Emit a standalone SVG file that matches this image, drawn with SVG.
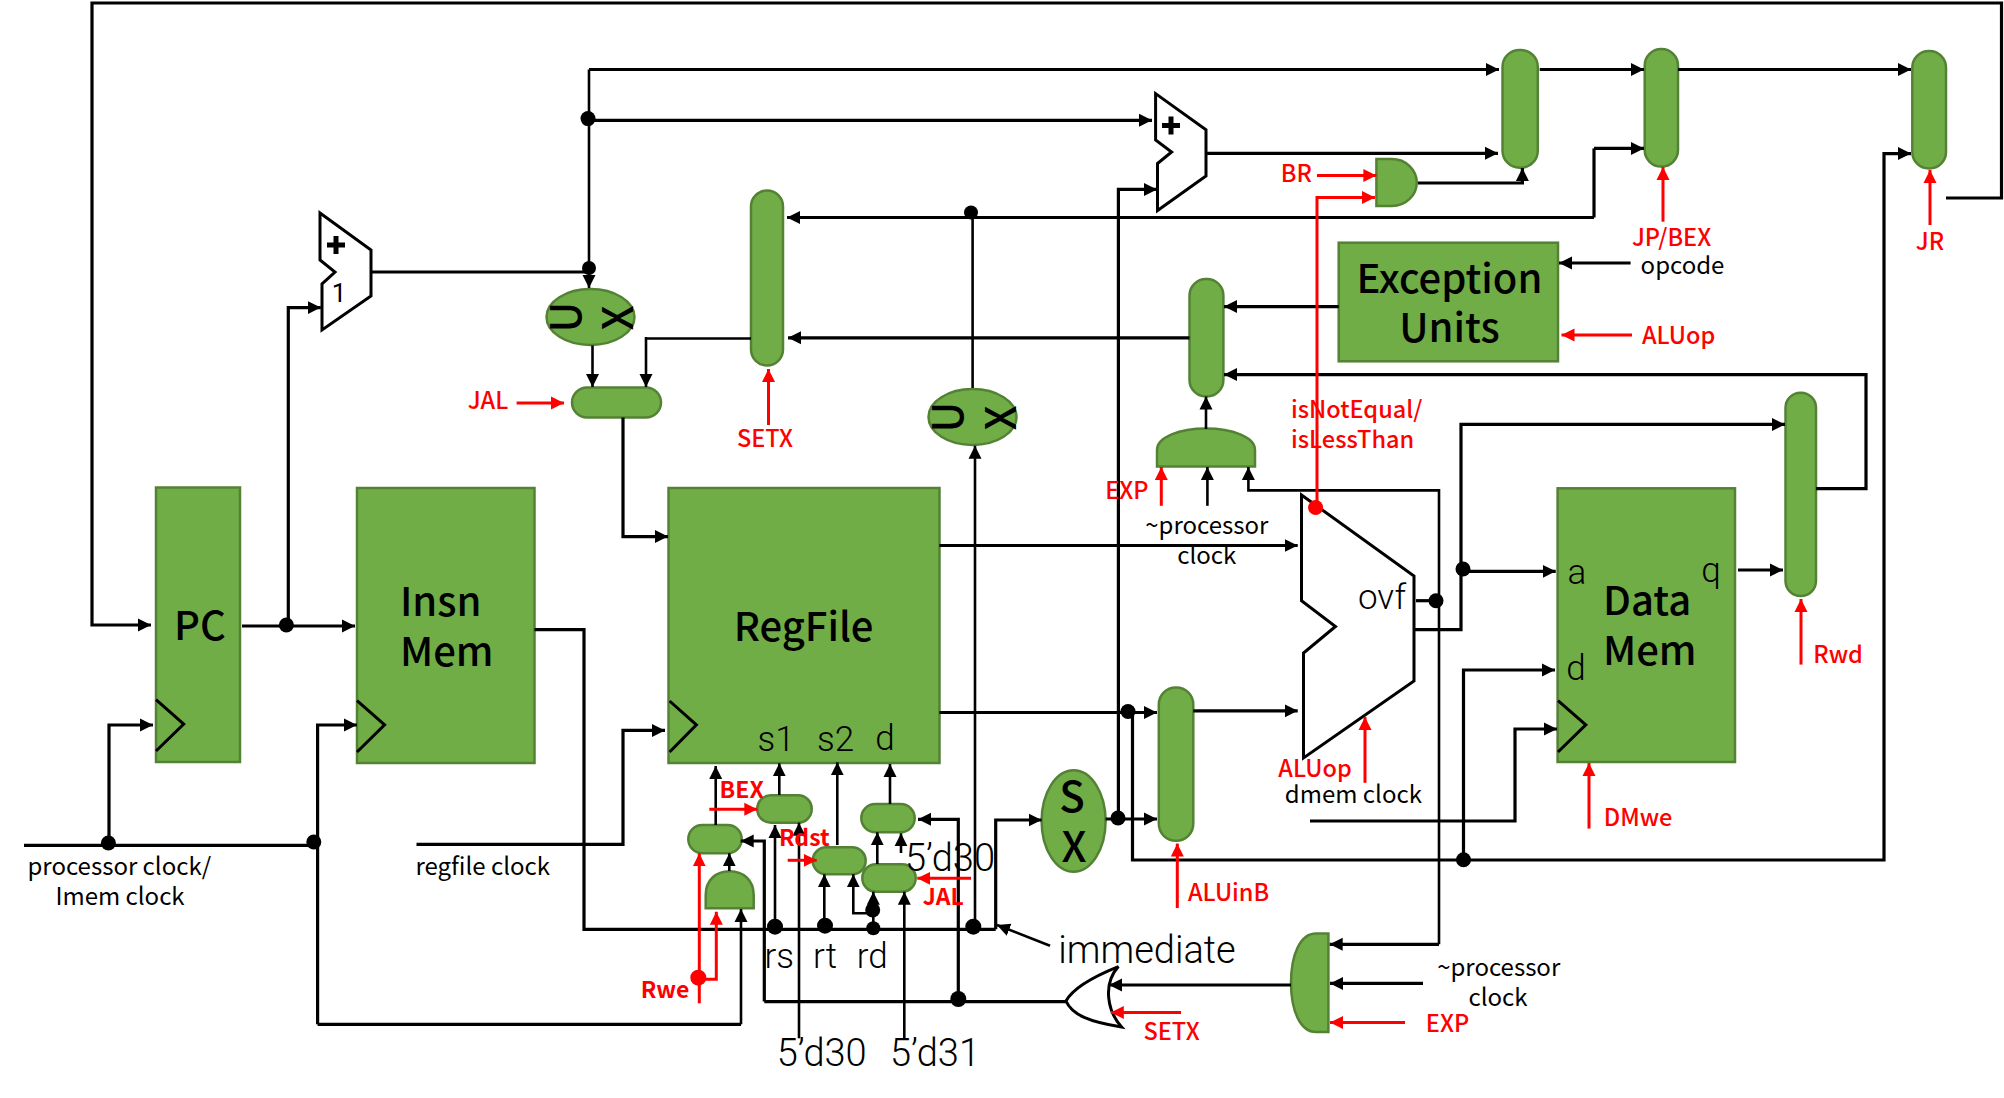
<svg xmlns="http://www.w3.org/2000/svg" width="2004" height="1098" viewBox="0 0 2004 1098">
<style>
.g{fill:#70AD47;stroke:#548235;stroke-width:2.5}
.w{fill:#fff;stroke:#000;stroke-width:3}
.ck{fill:none;stroke:#000;stroke-width:3}
.b,.ba{fill:none;stroke:#000;stroke-width:3.2}
.t,.ta{fill:none;stroke:#000;stroke-width:2.6}
.ba,.ta{marker-end:url(#ah)}
.r,.ra{fill:none;stroke:#f00;stroke-width:3}
.ra{marker-end:url(#rh)}
.d{fill:#000}
text{font-family:"Noto Sans CJK SC","Noto Sans",sans-serif;text-anchor:middle}
.big{font-size:40px;font-weight:500}
.s{font-size:24px}
.red{font-size:23.500px;fill:#f00;font-weight:500}
.rb{font-size:23px;fill:#f00;font-weight:700}
.thin{font-family:"Roboto","Noto Sans",sans-serif;font-weight:300;font-size:35px}
.th2{font-family:"Roboto","Noto Sans",sans-serif;font-weight:300;font-size:38px}
.mx{font-size:42px;font-weight:500}
</style>
<defs>
<marker id="ah" markerUnits="userSpaceOnUse" markerWidth="14" markerHeight="14" refX="13" refY="7" orient="auto"><path d="M0 0.5L13 7L0 13.5Z" fill="#000"/></marker>
<marker id="rh" markerUnits="userSpaceOnUse" markerWidth="14" markerHeight="14" refX="13" refY="7" orient="auto"><path d="M0 0.5L13 7L0 13.5Z" fill="#f00"/></marker>
</defs>

<g id="pc"><rect class="g" x="156" y="487.500" width="84" height="274.500"/><path class="ck" d="M156 699.600L183.700 724L156 751"/><text class="big" x="200" y="640">PC</text></g>
<g id="insn-mem"><rect class="g" x="357" y="488" width="177.500" height="275"/><path class="ck" d="M357 700.600L384.600 724.800L357 752"/><text class="big" x="400" y="616" style="text-anchor:start">Insn</text><text class="big" x="400" y="666" style="text-anchor:start">Mem</text></g>
<g id="regfile"><rect class="g" x="668.500" y="488" width="271" height="275"/><path class="ck" d="M669.600 701L696.400 724.800L669.600 752"/><text class="big" x="803.600" y="641">RegFile</text><text class="thin" x="776" y="751">s1</text><text class="thin" x="835.500" y="751">s2</text><text class="thin" x="885" y="750">d</text></g>
<g id="data-mem"><rect class="g" x="1557.600" y="488.300" width="177.400" height="273.700"/><path class="ck" d="M1558 700.600L1585.800 724.800L1558 752"/><text class="big" x="1603" y="615" style="text-anchor:start">Data</text><text class="big" x="1603" y="665" style="text-anchor:start">Mem</text><text class="thin" x="1577" y="584">a</text><text class="thin" x="1711" y="582">q</text><text class="thin" x="1576" y="680">d</text></g>
<g id="exception-units"><rect class="g" x="1338.700" y="242.700" width="219.300" height="118.600"/><text class="big" x="1449.400" y="293">Exception</text><text class="big" x="1449.400" y="342">Units</text></g>
<g id="adder-pc"><path class="w" d="M320 213L371 250V296L322 330V284L335 272L320 260Z"/><path class="d" d="M333.500 236h5v6.500h6.500v5h-6.500v6.500h-5v-6.500h-6.500v-5h6.500z"/><text x="339" y="302" style="font-size:26px;font-family:'Roboto',sans-serif;font-weight:400">1</text></g>
<g id="adder-branch"><path class="w" d="M1155.600 93.600L1206 129.800V176L1157.500 210.500V163.500L1171.600 152L1155.600 140Z"/><path class="d" d="M1168.500 116.500h5v6.500h6.500v5h-6.500v6.500h-5v-6.500h-6.500v-5h6.500z"/></g>
<g id="alu"><path class="w" d="M1301.500 495L1414 576V681L1303.500 758V653L1335.500 626.500L1301.500 600.700Z"/><text class="thin" x="1382" y="609">ovf</text></g>
<g id="mux-ux-1"><ellipse class="g" cx="590.500" cy="317" rx="44" ry="28"/><text class="mx" transform="translate(581 317) rotate(-90)">U</text><text class="mx" transform="translate(633 318) rotate(-90)">X</text></g>
<g id="mux-ux-2"><ellipse class="g" cx="972.500" cy="417" rx="44" ry="28"/><text class="mx" transform="translate(963 417) rotate(-90)">U</text><text class="mx" transform="translate(1016 418) rotate(-90)">X</text></g>
<g id="sx"><ellipse class="g" cx="1073.600" cy="821" rx="32" ry="50.700"/><text class="mx" x="1072" y="812">S</text><text class="mx" x="1074" y="862">X</text></g>
<g id="mux-jal"><rect class="g" x="572" y="387.600" width="89" height="29.800" rx="15"/></g>
<g id="mux-setx"><rect class="g" x="751" y="190.500" width="32" height="175" rx="16"/></g>
<g id="mux-a"><rect class="g" x="1502.500" y="50" width="35.300" height="117.700" rx="17"/></g>
<g id="mux-b"><rect class="g" x="1644.700" y="49" width="33.300" height="117.600" rx="16.500"/></g>
<g id="mux-c"><rect class="g" x="1912.300" y="51" width="33.700" height="117.400" rx="16.500"/></g>
<g id="mux-exc"><rect class="g" x="1189.500" y="279" width="33.900" height="117.400" rx="16.500"/></g>
<g id="mux-rwd"><rect class="g" x="1785.500" y="392.800" width="30.500" height="203.200" rx="15"/></g>
<g id="mux-aluinb"><rect class="g" x="1158.800" y="687.400" width="34.500" height="153.400" rx="17"/></g>
<g id="mux-s1"><rect class="g" x="688.300" y="825" width="53.400" height="28.300" rx="14"/></g>
<g id="mux-bex"><rect class="g" x="757.300" y="795.300" width="54.400" height="27.400" rx="13.500"/></g>
<g id="mux-rdst"><rect class="g" x="812.700" y="847.300" width="53" height="27" rx="13.500"/></g>
<g id="mux-d"><rect class="g" x="861.300" y="804" width="53.400" height="28.300" rx="14"/></g>
<g id="mux-jal2"><rect class="g" x="862.300" y="864.300" width="53.400" height="27.400" rx="13.500"/></g>
<g id="and-exc"><path class="g" d="M1157 466.500V450C1157 437 1180 428.600 1206 428.600C1232 428.600 1255 437 1255 450V466.500Z"/></g>
<g id="and-rwe"><path class="g" d="M705.700 908.300V895C705.700 880 716 871.300 729.700 871.300C743 871.300 753.700 880 753.700 895V908.300Z"/></g>
<g id="and-br"><path class="g" d="M1376.400 159H1392C1406 159 1416.800 170 1416.800 182.500C1416.800 195 1406 206 1392 206H1376.400Z"/></g>
<g id="latch-setx"><path class="g" d="M1328.400 933.400V1032H1316C1300 1032 1291 1010 1291 983C1291 955 1300 933.400 1316 933.400Z"/></g>
<g id="or-setx"><path class="w" d="M1118.400 966.600C1090 978 1072 990 1066 1001C1072 1015 1090 1022 1121.600 1027C1108 1012 1102 985 1118.400 966.600Z"/></g>

<g id="connectors">
<path class="ba" d="M1946 198H2001.500V3H92V625H151"/>
<path class="ba" d="M242 626H355"/>
<path class="ba" d="M288.300 625V307.600H320.800"/>
<path class="b" d="M371 272H589"/>
<path class="ta" d="M589 69.500V288"/>
<path class="ba" d="M589 69.500H1499"/>
<path class="ba" d="M589 120.300H1152"/>
<path class="ta" d="M592.500 345.500V387"/>
<path class="t" d="M751 338.500H646"/>
<path class="ta" d="M646 337V387"/>
<path class="ba" d="M623 417.400V536.600H668"/>
<path class="ba" d="M1594 217.500H787"/>
<path class="b" d="M1594 217.500V148.400"/>
<path class="ba" d="M1594 148.400H1644"/>
<path class="t" d="M972.600 212V388"/>
<path class="ba" d="M1189.500 337.800H788"/>
<path class="ta" d="M975 929V445.700"/>
<path class="ba" d="M1206 153.300H1498"/>
<path class="ba" d="M1118.400 818V189.400H1157"/>
<path class="ba" d="M1539.700 69.500H1644"/>
<path class="ba" d="M1678 69.500H1911"/>
<path class="ba" d="M1418 183H1522.400V168"/>
<path class="ba" d="M1132.500 712V860H1884V153.600H1911"/>
<path class="ba" d="M939.400 712.500H1157"/>
<path class="ba" d="M1105.600 819H1157"/>
<path class="ba" d="M995.700 929.300V820H1041.600"/>
<path class="b" d="M534.500 629.700H584V929.300H995.700"/>
<path class="ta" d="M1050 945.700L997 925"/>
<path class="ba" d="M1338.700 306.600H1224"/>
<path class="ba" d="M1816 488.600H1866V374.600H1224"/>
<path class="ba" d="M1630.600 263H1559"/>
<path class="ta" d="M1206 429V396.500"/>
<path class="ta" d="M1207.400 505.800V467"/>
<path class="ta" d="M1439 944.300V490.400H1248.400V467"/>
<path class="ba" d="M1439 944.300H1329.700"/>
<path class="ba" d="M1413 629.700H1461V424.400H1785"/>
<path class="ba" d="M1463 571.300H1555.700"/>
<path class="ba" d="M1463.500 860V670H1555"/>
<path class="ba" d="M1310 821H1515V729H1557"/>
<path class="b" d="M1416 600.700H1436"/>
<path class="ba" d="M939.400 545.500H1297.700"/>
<path class="ba" d="M1193.300 710.800H1297.700"/>
<path class="ba" d="M1738 570H1783"/>
<path class="ba" d="M1291 985H1109"/>
<path class="ba" d="M1423 983.400H1330"/>
<path class="b" d="M1066 1001.600H764.300"/>
<path class="ba" d="M958.300 1001.600V819.300H918"/>
<path class="ba" d="M764.300 1001.600V841H740.700"/>
<path class="ta" d="M715.700 825V766"/>
<path class="ta" d="M779.300 795V763.300"/>
<path class="ta" d="M837.300 845V762.300"/>
<path class="ta" d="M890 804V764"/>
<path class="ta" d="M729.300 871V853.300"/>
<path class="ta" d="M741 1024.300V909"/>
<path class="b" d="M317.600 1024.300H741"/>
<path class="ba" d="M317.600 1024.300V725H357"/>
<path class="ta" d="M775 929V825"/>
<path class="ta" d="M799 1038.300V822.700"/>
<path class="ta" d="M824.300 926.700V874.300"/>
<path class="ta" d="M873.300 928V891.700"/>
<path class="ta" d="M872.700 913.300H853.300V874.300"/>
<path class="ta" d="M877.300 864V832.300"/>
<path class="ta" d="M901 853V833.300"/>
<path class="ta" d="M904.300 1038.300V891.700"/>
<path class="b" d="M24 845.400H314"/>
<path class="ba" d="M109 843V725H153"/>
<path class="ba" d="M416.500 844.300H623V730.400H665"/>
<circle class="d" cx="589" cy="268" r="7"/>
<circle class="d" cx="588" cy="118.600" r="7.500"/>
<circle class="d" cx="971" cy="212.500" r="7"/>
<circle class="d" cx="286.400" cy="625" r="7.500"/>
<circle class="d" cx="108.400" cy="843" r="7.500"/>
<circle class="d" cx="313.800" cy="842" r="7.500"/>
<circle class="d" cx="775" cy="926.700" r="8"/>
<circle class="d" cx="825" cy="925.700" r="8"/>
<circle class="d" cx="873.300" cy="928.300" r="7"/>
<circle class="d" cx="872.700" cy="910" r="7.500"/>
<circle class="d" cx="973.300" cy="926.700" r="8"/>
<circle class="d" cx="958.300" cy="999" r="8"/>
<circle class="d" cx="1128" cy="711.500" r="7.500"/>
<circle class="d" cx="1118" cy="818" r="7.500"/>
<circle class="d" cx="1463" cy="569" r="7.500"/>
<circle class="d" cx="1463.500" cy="859.700" r="7.500"/>
<circle class="d" cx="1436" cy="600.700" r="7.500"/>
<path class="ra" d="M516.600 403H564"/>
<path class="ra" d="M768.500 425V369"/>
<path class="ra" d="M1317 175.400H1376.400"/>
<path class="ra" d="M1317 507V197.500H1375"/>
<path class="ra" d="M1663 221.700V167"/>
<path class="ra" d="M1930 225V170"/>
<path class="ra" d="M1632 335H1561.500"/>
<path class="ra" d="M1161.300 505.800V467"/>
<path class="ra" d="M1365 782.800V717"/>
<path class="ra" d="M1801 664.600V599"/>
<path class="ra" d="M1589 828.600V763"/>
<path class="ra" d="M1177.300 908V843.600"/>
<path class="ra" d="M1181 1012.400H1110.800"/>
<path class="ra" d="M1405 1022.600H1330"/>
<path class="ra" d="M709.300 809.300H757.300"/>
<path class="ra" d="M787.700 860.300H816.700"/>
<path class="ra" d="M699.300 1003.300V853.300"/>
<path class="ra" d="M698 979.300H716.300V911.700"/>
<path class="ra" d="M971 878.300H917.300"/>
<circle cx="1315.600" cy="507.500" r="7.500" fill="#f00"/>
<circle cx="698.300" cy="977.700" r="8" fill="#f00"/>
</g>

<g id="labels">
<text class="red" x="488" y="409">JAL</text>
<text class="red" x="765" y="447">SETX</text>
<text class="red" x="1296.400" y="182">BR</text>
<text class="red" x="1671.600" y="246">JP/BEX</text>
<text class="red" x="1930" y="250">JR</text>
<text class="red" x="1678.600" y="344">ALUop</text>
<text class="red" x="1291" y="418" style="text-anchor:start">isNotEqual/</text>
<text class="red" x="1291" y="448" style="text-anchor:start">isLessThan</text>
<text class="red" x="1126.800" y="499">EXP</text>
<text class="red" x="1315" y="777">ALUop</text>
<text class="red" x="1838" y="663">Rwd</text>
<text class="red" x="1638" y="826">DMwe</text>
<text class="red" x="1228.600" y="901">ALUinB</text>
<text class="red" x="1171.600" y="1040">SETX</text>
<text class="red" x="1447.500" y="1032">EXP</text>
<text class="rb" x="741.700" y="798">BEX</text>
<text class="rb" x="804.300" y="846">Rdst</text>
<text class="rb" x="665" y="998">Rwe</text>
<text class="rb" x="943.300" y="905">JAL</text>
<text class="s" x="1682.500" y="274">opcode</text>
<text class="s" x="1206.800" y="534">~processor</text>
<text class="s" x="1206.800" y="564">clock</text>
<text class="s" x="1353.400" y="803">dmem clock</text>
<text class="s" x="1498.700" y="976">~processor</text>
<text class="s" x="1498" y="1006">clock</text>
<text class="s" x="119.300" y="875">processor clock/</text>
<text class="s" x="120" y="905">Imem clock</text>
<text class="s" x="482.800" y="875">regfile clock</text>
<text class="thin" x="779.300" y="968">rs</text>
<text class="thin" x="825" y="968">rt</text>
<text class="thin" x="872.300" y="968">rd</text>
<text class="th2" x="821.700" y="1066">5’d30</text>
<text class="th2" x="935" y="1066">5’d31</text>
<text class="th2" x="950" y="871">5’d30</text>
<text class="th2" x="1147" y="963">immediate</text>
</g>
</svg>
